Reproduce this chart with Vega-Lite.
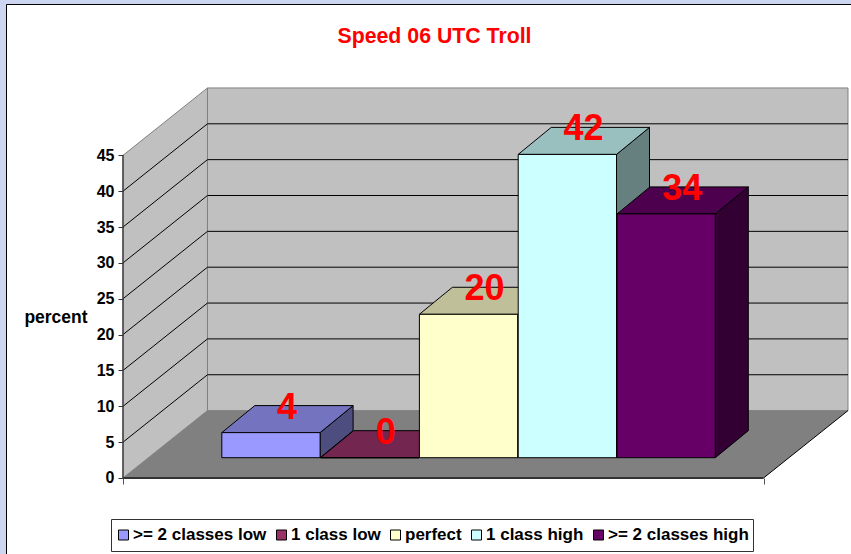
{
"$schema":"https://vega.github.io/schema/vega-lite/v6.json",
"width":851,"height":554,"padding":0,"autosize":{"type":"none"},
"background":"#ccd6f0",
"view":{"stroke":null},
"config":{"font":"Liberation Sans"},
"title":{"text":"Speed 06 UTC Troll","color":"#ff0000","font":"Liberation Sans","fontWeight":"bold","fontSize":21.3,"anchor":"middle","dx":9,"dy":64,"offset":0,"baseline":"alphabetic"},
"datasets":{
"bars":[
{"category":">= 2 classes low","order":0,"percent":3.5},
{"category":"1 class low","order":1,"percent":0},
{"category":"perfect","order":2,"percent":20},
{"category":"1 class high","order":3,"percent":42.3},
{"category":">= 2 classes high","order":4,"percent":34}
],
"grid":[{"level":5},{"level":10},{"level":15},{"level":20},{"level":25},{"level":30},{"level":35},{"level":40}],
"edge":[{"t":0},{"t":1}],
"one":[{"id":1}]
},
"resolve":{"scale":{"color":"independent"},"legend":{"color":"independent"}},
"layer":[
{"data":{"name":"one"},"mark":{"type":"rect","fill":"#ffffff","stroke":"#000000","strokeWidth":1},
"encoding":{
"x":{"datum":-1.179,"scale":{"domain":[-1.24494,7.36842],"nice":false,"zero":false},"axis":{"title":null,"values":[0,6.483],"labels":false,"domain":false,"grid":false,"ticks":true,"tickSize":6,"tickColor":"#555555","offset":-76,"zindex":1}},
"x2":{"datum":7.6},
"y":{"datum":66.04,"scale":{"domain":[-10.6,66.667],"nice":false,"zero":false},"axis":{"title":"percent","values":[0,5,10,15,20,25,30,35,40,45],"domain":false,"grid":false,"ticks":true,"tickSize":5,"tickColor":"#333333","labelPadding":4,"labelFont":"Liberation Sans","labelFontWeight":"bold","labelFontSize":16,"labelColor":"#000000","titleFont":"Liberation Sans","titleFontWeight":"bold","titleFontSize":17.5,"titleColor":"#000000","titleAngle":0,"titleAlign":"center","titleBaseline":"middle","titleX":-67.5,"titleY":317,"offset":-123,"zindex":1}},
"y2":{"datum":-12}
}},
{"data":{"name":"edge"},
"transform":[{"calculate":"datum.t*0.855","as":"wx"},{"calculate":"45+datum.t*9.4","as":"wt"},{"calculate":"datum.t*9.4","as":"wb"}],
"mark":{"type":"area","color":"#c0c0c0","stroke":"#808080","strokeWidth":1},
"encoding":{
"x":{"field":"wx","type":"quantitative","scale":{"domain":[-1.24494,7.36842],"nice":false,"zero":false}},
"y":{"field":"wt","type":"quantitative","scale":{"domain":[-10.6,66.667],"nice":false,"zero":false}},
"y2":{"field":"wb"}
}},
{"data":{"name":"one"},"mark":{"type":"rect","fill":"#c0c0c0","stroke":"#808080","strokeWidth":1},
"encoding":{
"x":{"datum":0.855,"scale":{"domain":[-1.24494,7.36842],"nice":false,"zero":false}},
"x2":{"datum":7.338},
"y":{"datum":54.4,"scale":{"domain":[-10.6,66.667],"nice":false,"zero":false}},
"y2":{"datum":9.4}
}},
{"data":{"name":"edge"},
"transform":[{"calculate":"datum.t*0.855","as":"fl"},{"calculate":"6.483+datum.t*0.855","as":"fr"},{"calculate":"datum.t*9.4","as":"fy"}],
"mark":{"type":"area","orient":"horizontal","color":"#808080"},
"encoding":{
"y":{"field":"fy","type":"quantitative","scale":{"domain":[-10.6,66.667],"nice":false,"zero":false}},
"x":{"field":"fl","type":"quantitative","scale":{"domain":[-1.24494,7.36842],"nice":false,"zero":false}},
"x2":{"field":"fr"}
}},
{"data":{"name":"grid"},
"transform":[{"calculate":"datum.level+9.4","as":"backLevel"}],
"mark":{"type":"rule","color":"#000000","strokeWidth":1},
"encoding":{
"x":{"datum":0,"scale":{"domain":[-1.24494,7.36842],"nice":false,"zero":false}},
"x2":{"datum":0.855},
"y":{"field":"level","type":"quantitative","scale":{"domain":[-10.6,66.667],"nice":false,"zero":false}},
"y2":{"field":"backLevel"}
}},
{"data":{"name":"grid"},
"transform":[{"calculate":"datum.level+9.4","as":"backLevel"}],
"mark":{"type":"rule","color":"#000000","strokeWidth":1},
"encoding":{
"x":{"datum":0.855,"scale":{"domain":[-1.24494,7.36842],"nice":false,"zero":false}},
"x2":{"datum":7.338},
"y":{"field":"backLevel","type":"quantitative","scale":{"domain":[-10.6,66.667],"nice":false,"zero":false}}
}},
{"data":{"name":"one"},"mark":{"type":"rule","color":"#000000","strokeWidth":1},
"encoding":{
"x":{"datum":6.483,"scale":{"domain":[-1.24494,7.36842],"nice":false,"zero":false}},
"x2":{"datum":7.338},
"y":{"datum":0,"scale":{"domain":[-10.6,66.667],"nice":false,"zero":false}},
"y2":{"datum":9.4}
}},
{"data":{"name":"one"},"mark":{"type":"rule","color":"#333333","strokeWidth":2},
"encoding":{
"x":{"datum":0,"scale":{"domain":[-1.24494,7.36842],"nice":false,"zero":false}},
"x2":{"datum":6.483},
"y":{"datum":0,"scale":{"domain":[-10.6,66.667],"nice":false,"zero":false}}
}},
{"data":{"name":"one"},"mark":{"type":"rule","color":"#444444","strokeWidth":1.5},
"encoding":{
"x":{"datum":0,"scale":{"domain":[-1.24494,7.36842],"nice":false,"zero":false}},
"y":{"datum":0,"scale":{"domain":[-10.6,66.667],"nice":false,"zero":false}},
"y2":{"datum":45}
}},
{"data":{"name":"bars"},
"transform":[{"calculate":"0","as":"front"},{"calculate":"1","as":"back"},{"fold":["front","back"],"as":["edge","t"]},{"calculate":"1.995+datum.order+datum.t*0.334","as":"sx"},{"calculate":"2.83+datum.percent+datum.t*3.77","as":"st"},{"calculate":"2.83+datum.t*3.77","as":"sb"}],
"mark":{"type":"area","stroke":"#000000","strokeWidth":1},
"encoding":{
"x":{"field":"sx","type":"quantitative","scale":{"domain":[-1.24494,7.36842],"nice":false,"zero":false}},
"y":{"field":"st","type":"quantitative","scale":{"domain":[-10.6,66.667],"nice":false,"zero":false}},
"y2":{"field":"sb"},
"color":{"field":"category","type":"nominal","legend":null,"scale":{"domain":[">= 2 classes low","1 class low","perfect","1 class high",">= 2 classes high"],"range":["#4d4d80","#4d1933","#808066","#668080","#330033"]}}
}},
{"data":{"name":"bars"},
"transform":[{"calculate":"0","as":"front"},{"calculate":"1","as":"back"},{"fold":["front","back"],"as":["edge","t"]},{"calculate":"1+datum.order+datum.t*0.334","as":"tl"},{"calculate":"1.995+datum.order+datum.t*0.334","as":"tr"},{"calculate":"2.83+datum.percent+datum.t*3.77","as":"ty"}],
"mark":{"type":"area","orient":"horizontal","stroke":"#000000","strokeWidth":1},
"encoding":{
"y":{"field":"ty","type":"quantitative","scale":{"domain":[-10.6,66.667],"nice":false,"zero":false}},
"x":{"field":"tl","type":"quantitative","scale":{"domain":[-1.24494,7.36842],"nice":false,"zero":false}},
"x2":{"field":"tr"},
"color":{"field":"category","type":"nominal","legend":null,"scale":{"domain":[">= 2 classes low","1 class low","perfect","1 class high",">= 2 classes high"],"range":["#7373bf","#732650","#bfbf99","#99bfbf","#4d004d"]}}
}},
{"data":{"name":"bars"},
"transform":[{"calculate":"1+datum.order","as":"bl"},{"calculate":"1.995+datum.order","as":"br"},{"calculate":"2.83+datum.percent","as":"bt"},{"calculate":"2.83","as":"bb"}],
"mark":{"type":"rect","stroke":"#000000","strokeWidth":1},
"encoding":{
"x":{"field":"bl","type":"quantitative","scale":{"domain":[-1.24494,7.36842],"nice":false,"zero":false}},
"x2":{"field":"br"},
"y":{"field":"bt","type":"quantitative","scale":{"domain":[-10.6,66.667],"nice":false,"zero":false}},
"y2":{"field":"bb"},
"color":{"field":"category","type":"nominal","scale":{"domain":[">= 2 classes low","1 class low","perfect","1 class high",">= 2 classes high"],"range":["#9999ff","#993366","#ffffcc","#ccffff","#660066"]},
"legend":{"orient":"none","legendX":111,"legendY":519,"title":null,"direction":"horizontal","columns":5,"symbolType":"square","symbolSize":100,"symbolStrokeColor":"#000000","symbolStrokeWidth":1,"labelFont":"Liberation Sans","labelFontWeight":"bold","labelFontSize":17,"labelColor":"#000000","labelOffset":1,"labelLimit":300,"columnPadding":6,"padding":4,"clipHeight":24,"strokeColor":"#333333","fillColor":"#ffffff"}}
}},
{"data":{"name":"bars"},
"transform":[{"calculate":"1.66+datum.order","as":"lx"},{"calculate":"2.83+datum.percent+3.77","as":"ly"}],
"mark":{"type":"text","color":"#ff0000","font":"Liberation Sans","fontWeight":"bold","fontSize":36,"baseline":"middle","align":"center","dy":2},
"encoding":{
"x":{"field":"lx","type":"quantitative","scale":{"domain":[-1.24494,7.36842],"nice":false,"zero":false}},
"y":{"field":"ly","type":"quantitative","scale":{"domain":[-10.6,66.667],"nice":false,"zero":false}},
"text":{"field":"percent","type":"quantitative","format":".0f"}
}}
]
}
